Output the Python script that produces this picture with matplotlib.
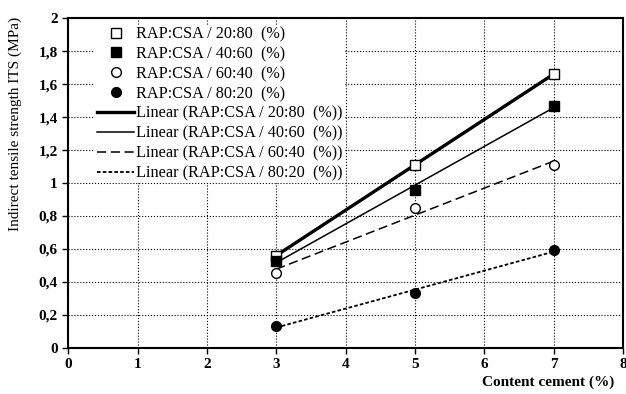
import matplotlib
matplotlib.use("Agg")
import matplotlib.pyplot as plt
import numpy as np

# data
cement = [3, 5, 7]
its_20_80 = [0.56, 1.11, 1.66]
its_40_60 = [0.53, 0.96, 1.47]
its_60_40 = [0.455, 0.85, 1.11]
its_80_20 = [0.135, 0.33, 0.595]
names = ["RAP:CSA / 20:80  (%)", "RAP:CSA / 40:60  (%)",
         "RAP:CSA / 60:40  (%)", "RAP:CSA / 80:20  (%)"]

plt.rcParams['font.family'] = ['Liberation Serif', 'DejaVu Serif']

fig = plt.figure(figsize=(6.26, 3.94), dpi=100)
ax = fig.add_axes([0.109, 0.117, 0.886, 0.837])

series = [its_20_80, its_40_60, its_60_40, its_80_20]
markers = [dict(marker='s', mfc='white'), dict(marker='s', mfc='black'),
           dict(marker='o', mfc='white'), dict(marker='o', mfc='black')]
line_styles = [dict(lw=2.4, ls='-'), dict(lw=1.1, ls='-'),
               dict(lw=1.1, ls=(0, (6, 3))), dict(lw=1.3, ls=(0, (2, 1.2)))]

# points
for s, m, n in zip(series, markers, names):
    ax.plot(cement, s, ls='none', mec='black', ms=7, mew=1.0, label=n, zorder=4, **m)

# linear trend lines
x = np.array(cement)
for s, st, n in zip(series, line_styles, names):
    k, b = np.polyfit(x, s, 1)
    ax.plot(x, k * x + b, color='black', label='Linear (' + n + ')', zorder=3, **st)

ax.set_xlim(0, 8)
ax.set_ylim(0, 2)
ax.set_xticks(range(0, 9))
ax.set_yticks(np.arange(0, 2.01, 0.2))
ax.set_yticklabels(['0', '0,2', '0,4', '0,6', '0,8', '1', '1,2', '1,4', '1,6', '1,8', '2'])
ax.grid(True, color='black', ls=':', lw=0.8)
ax.set_axisbelow(True)
for sp in ax.spines.values():
    sp.set_linewidth(1.5)
ax.tick_params(direction='out', length=4, width=1, labelsize=11)
for lab in ax.get_xticklabels() + ax.get_yticklabels():
    lab.set_fontweight('bold')

ax.set_ylabel('Indirect tensile strength ITS (MPa)', fontsize=11)
ax.yaxis.set_label_coords(-0.083, 0.68)
ax.set_xlabel('Content cement (%)', fontsize=11, fontweight='bold', ha='right')
ax.xaxis.set_label_coords(0.984, -0.085)

# legend without frame line, white box hides the grid (drawn under the spines)
leg = ax.legend(loc='upper left', bbox_to_anchor=(0.034, 1.005), frameon=True, fontsize=11.7,
                handlelength=2.3, handletextpad=0.1, labelspacing=0.24, borderpad=0.1)
leg.get_frame().set_edgecolor('none')
leg.get_frame().set_facecolor('white')
leg.get_frame().set_alpha(1)
leg.set_zorder(2.4)

fig.savefig('out.png', dpi=100)
